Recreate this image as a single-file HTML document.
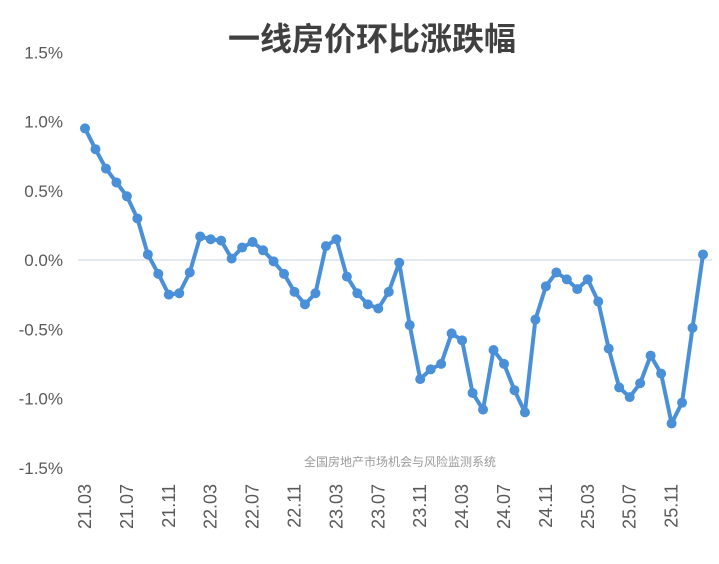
<!DOCTYPE html>
<html><head><meta charset="utf-8"><style>
body{margin:0;background:#fff;}
svg{display:block;font-family:"Liberation Sans","Noto Sans CJK SC",sans-serif;}
</style></head><body>
<svg id="chart" width="719" height="564" viewBox="0 0 719 564">
<rect width="719" height="564" fill="#fff"/>
<text x="372" y="50" text-anchor="middle" font-size="32" font-weight="bold" fill="#404040" font-family="'Liberation Sans','Noto Sans CJK SC',sans-serif">一线房价环比涨跌幅</text>
<text x="400" y="466" text-anchor="middle" font-size="12" fill="#9a9a9a">全国房地产市场机会与风险监测系统</text>
<g id="yaxis"></g><g id="xaxis"></g><g id="series"></g>
</svg>
<script>
const categories=["21.03","21.04","21.05","21.06","21.07","21.08","21.09","21.10","21.11","21.12","22.01","22.02","22.03","22.04","22.05","22.06","22.07","22.08","22.09","22.10","22.11","22.12","23.01","23.02","23.03","23.04","23.05","23.06","23.07","23.08","23.09","23.10","23.11","23.12","24.01","24.02","24.03","24.04","24.05","24.06","24.07","24.08","24.09","24.10","24.11","24.12","25.01","25.02","25.03","25.04","25.05","25.06","25.07","25.08","25.09","25.10","25.11","25.12","26.01","26.02"];
const values=[0.95,0.80,0.66,0.56,0.46,0.30,0.04,-0.10,-0.25,-0.24,-0.09,0.17,0.15,0.14,0.01,0.09,0.13,0.07,-0.01,-0.10,-0.23,-0.32,-0.24,0.10,0.15,-0.12,-0.24,-0.32,-0.35,-0.23,-0.02,-0.47,-0.86,-0.79,-0.75,-0.53,-0.58,-0.96,-1.08,-0.65,-0.75,-0.94,-1.10,-0.43,-0.19,-0.09,-0.14,-0.21,-0.14,-0.30,-0.64,-0.92,-0.99,-0.89,-0.69,-0.82,-1.18,-1.03,-0.49,0.04];
const yTicks=[1.5,1.0,0.5,0.0,-0.5,-1.0,-1.5];
const xTickLabels=["21.03","21.07","21.11","22.03","22.07","22.11","23.03","23.07","23.11","24.03","24.07","24.11","25.03","25.07","25.11"];
const NS="http://www.w3.org/2000/svg";
const x0=85,x1=703,yZero=260,pxPerUnit=138.5;
const xs=i=>x0+(x1-x0)*i/(values.length-1);
const ys=v=>yZero-v*pxPerUnit;
function mk(t,a,p){const e=document.createElementNS(NS,t);for(const k in a)e.setAttribute(k,a[k]);p.appendChild(e);return e;}
const ya=document.getElementById('yaxis');
yTicks.forEach(v=>{
 const t=mk('text',{x:63,y:ys(v)+6,'text-anchor':'end','font-size':17,fill:'#595959'},ya);
 
 
 t.textContent=v.toFixed(1)+'%';
});
const zl=mk('line',{x1:78,x2:712,y1:ys(0),y2:ys(0),stroke:'#c8d0e0','stroke-width':1},ya);


const xa=document.getElementById('xaxis');
xTickLabels.forEach(l=>{
 const i=categories.indexOf(l);const x=xs(i);
 const t=mk('text',{x:0,y:0,'text-anchor':'end','font-size':18,fill:'#595959',transform:`translate(${x+6},484) rotate(-90)`},xa);
 
 
 t.textContent=l;
});
const s=document.getElementById('series');
const pl=mk('polyline',{points:values.map((v,i)=>xs(i)+','+ys(v)).join(' '),fill:'none',stroke:'#4a90d9','stroke-width':4,'stroke-linejoin':'round'},s);


values.forEach((v,i)=>{
 const c=mk('circle',{cx:xs(i),cy:ys(v),r:5,fill:'#4a90d9'},s);
 
 
});
</script>
</body></html>
